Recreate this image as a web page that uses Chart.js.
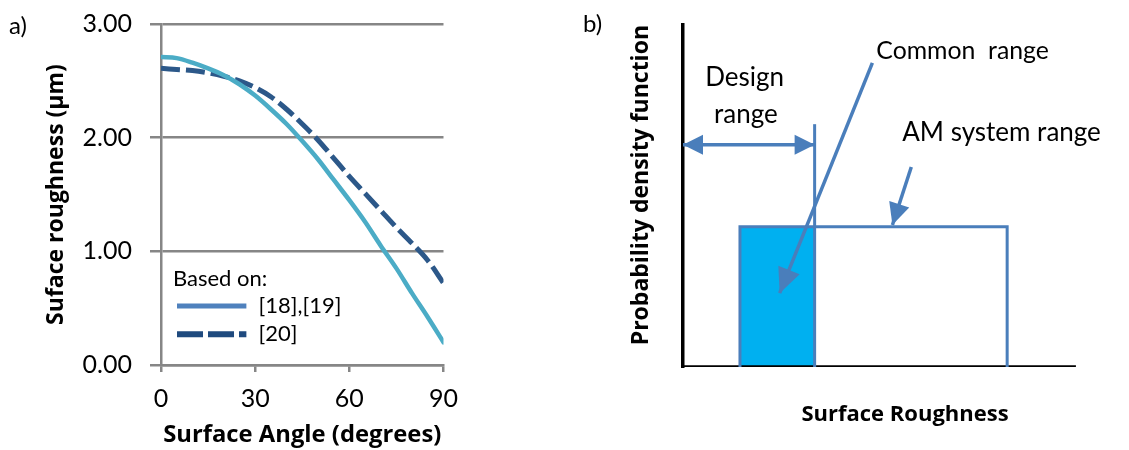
<!DOCTYPE html>
<html lang="en">
  <head>
    <meta charset="UTF-8" />
    <title>Surface roughness vs surface angle</title>
    <style>
      html, body { margin: 0; padding: 0; background: #fff; overflow: hidden; }
      #wrap { position: relative; width: 1129px; height: 450px; overflow: hidden; }
      /* chart a) is shifted up 9px so that its plot top lands on the 3.00 line of the original */
      #chartA { position: absolute; left: 0; top: -9px; width: 470px; height: 459px; }
      #chartB { position: absolute; left: 575px; top: 0; width: 554px; height: 450px; }
    </style>
  </head>
  <body>
    <div id="wrap">
      <canvas id="chartA" width="470" height="459"></canvas> <!-- a) roughness curves -->
      <canvas id="chartB" width="554" height="450"></canvas> <!-- b) range sketch -->
    </div>

    <script src="https://cdn.jsdelivr.net/npm/chart.js@4.4.1/dist/chart.umd.min.js"></script>

    <script>
      // ---- a) data ----
      var angles = [0, 5, 10, 15, 20, 25, 30, 35, 40, 45, 50, 55, 60, 65, 70, 75, 80, 85, 90];
      var roughness1819 = [2.71, 2.70, 2.66, 2.61, 2.55, 2.47, 2.37, 2.25, 2.12, 1.97, 1.81, 1.63, 1.45, 1.26, 1.05, 0.85, 0.63, 0.42, 0.20];
      var roughness20 = [2.61, 2.60, 2.59, 2.57, 2.54, 2.50, 2.44, 2.36, 2.25, 2.12, 1.98, 1.82, 1.66, 1.51, 1.36, 1.21, 1.07, 0.92, 0.72];
      var angleTicks = [0, 30, 60, 90];
      var roughnessTicks = [0, 1, 2, 3];
      var seriesLabels = ['[18],[19]', '[20]'];

      // ---- b) sketch data (arbitrary units) ----
      var roughnessAxisEnd = 100;
      var designRange = [0, 33.5];
      var amSystemRange = [14.5, 82.5];
      var amDensity = 41;
      var designLimitTop = 71;
      var designArrowLevel = 65;
      var commonArrow = [[48.2, 88.9], [24.6, 21.6]];
      var amArrow = [[58.1, 58.5], [53.3, 41.5]];

      var commonRange = [Math.max(designRange[0], amSystemRange[0]), Math.min(designRange[1], amSystemRange[1])];

      function pts(xs, ys) {
        return xs.map(function (x, i) { return { x: x, y: ys[i] }; });
      }
      function pairPts(list) {
        return list.map(function (p) { return { x: p[0], y: p[1] }; });
      }

      Chart.defaults.font.family = 'Lato';
      Chart.defaults.color = '#000';
      var titleFont = '"Open Sans"';

      // text notes, in data units of the chart (or canvas pixels when px:true)
      var notesPlugin = {
        id: 'notes',
        afterDraw: function (chart, args, opts) {
          var ctx = chart.ctx, xs = chart.scales.x, ys = chart.scales.y;
          ctx.save();
          (opts.items || []).forEach(function (it) {
            ctx.font = (it.size || 25) + 'px Lato';
            ctx.fillStyle = '#000';
            ctx.textAlign = it.align || 'left';
            ctx.textBaseline = 'middle';
            var px = it.px ? it.x : xs.getPixelForValue(it.x);
            var py = it.px ? it.y : ys.getPixelForValue(it.y);
            ctx.fillText(it.text, px, py);
          });
          ctx.restore();
        }
      };

      // legend drawn inside the plot, like the original
      var insideLegend = {
        id: 'insideLegend',
        afterDatasetsDraw: function (chart, args, opts) {
          if (!opts.title) return;
          var ctx = chart.ctx, xs = chart.scales.x, ys = chart.scales.y;
          ctx.save();
          ctx.font = '22px Lato';
          ctx.fillStyle = '#000';
          ctx.textBaseline = 'middle';
          ctx.fillText(opts.title, xs.getPixelForValue(opts.x0), ys.getPixelForValue(opts.titleY));
          chart.data.datasets.forEach(function (ds, i) {
            var y = ys.getPixelForValue(opts.rowsY[i]);
            ctx.beginPath();
            ctx.strokeStyle = opts.colors[i];
            ctx.lineWidth = opts.widths[i];
            ctx.setLineDash(opts.dashes[i]);
            ctx.moveTo(xs.getPixelForValue(opts.x1), y);
            ctx.lineTo(xs.getPixelForValue(opts.x2), y);
            ctx.stroke();
            ctx.setLineDash([]);
            ctx.fillText(ds.label, xs.getPixelForValue(opts.textX), y);
          });
          ctx.restore();
        }
      };

      // filled triangle heads on line datasets
      var arrowHeads = {
        id: 'arrowHeads',
        afterDatasetsDraw: function (chart) {
          var ctx = chart.ctx;
          chart.data.datasets.forEach(function (ds, i) {
            if (!ds.heads) return;
            var p = chart.getDatasetMeta(i).data;
            function head(tip, from) {
              var dx = tip.x - from.x, dy = tip.y - from.y;
              var d = Math.sqrt(dx * dx + dy * dy);
              var ux = dx / d, uy = dy / d;
              var L = ds.heads.length, W = ds.heads.width / 2;
              ctx.beginPath();
              ctx.moveTo(tip.x, tip.y);
              ctx.lineTo(tip.x - ux * L - uy * W, tip.y - uy * L + ux * W);
              ctx.lineTo(tip.x - ux * L + uy * W, tip.y - uy * L - ux * W);
              ctx.closePath();
              ctx.fill();
            }
            ctx.save();
            ctx.fillStyle = ds.heads.color || ds.borderColor;
            if (ds.heads.end) head(p[p.length - 1], p[p.length - 2]);
            if (ds.heads.start) head(p[0], p[1]);
            ctx.restore();
          });
        }
      };

      // ---- a) chart ----
      var chartA = new Chart(document.getElementById('chartA'), {
        type: 'line',
        data: {
          datasets: [{
            label: seriesLabels[0],
            data: pts(angles, roughness1819),
            borderColor: '#4bacc6',
            borderWidth: 4.5,
            borderCapStyle: 'round',
            pointRadius: 0,
            cubicInterpolationMode: 'monotone'
          }, {
            label: seriesLabels[1],
            data: pts(angles, roughness20),
            borderColor: '#2c5889',
            borderWidth: 5,
            borderDash: [19, 6],
            pointRadius: 0,
            cubicInterpolationMode: 'monotone'
          }]
        },
        options: {
          responsive: false,
          animation: false,
          layout: { padding: { top: 24, right: 18, left: 0, bottom: 0 } },
          plugins: {
            legend: { display: false },
            tooltip: { enabled: false },
            insideLegend: {
              title: 'Based on:',
              x0: 3.8, titleY: 0.76,
              x1: 5.1, x2: 27.2, textX: 31.1,
              rowsY: [0.52, 0.27],
              colors: ['#4f81bd', '#1f4a7e'],
              widths: [5, 6],
              dashes: [[], [26, 5]]
            },
            notes: { items: [{ text: 'a)', x: 9, y: 35, px: true, size: 24 }] }
          },
          scales: {
            x: {
              type: 'linear',
              min: 0, max: 90,
              afterBuildTicks: function (s) { s.ticks = angleTicks.map(function (v) { return { value: v }; }); },
              afterFit: function (s) { s.height = 85; },
              grid: { drawOnChartArea: false, color: '#868686', lineWidth: 2.5, tickLength: 7 },
              border: { display: true, color: '#868686', width: 2.5 },
              ticks: { font: { size: 25 }, padding: 12, maxRotation: 0 },
              title: {
                display: true, text: 'Surface Angle (degrees)',
                font: { family: titleFont, size: 23.8, weight: 'bold' }, padding: { top: 0, bottom: 1 }
              }
            },
            y: {
              min: 0, max: 3,
              afterBuildTicks: function (s) { s.ticks = roughnessTicks.map(function (v) { return { value: v }; }); },
              afterFit: function (s) { s.width = 161; },
              grid: { color: '#868686', lineWidth: 2.5, tickLength: 11 },
              border: { display: true, color: '#868686', width: 2.5 },
              ticks: { font: { size: 25 }, padding: 18, callback: function (v) { return v.toFixed(2); } },
              title: {
                display: true, text: 'Suface roughness (µm)',
                font: { family: titleFont, size: 23, weight: 'bold' }, padding: { top: 43, bottom: 0 }
              }
            }
          }
        },
        plugins: [insideLegend, notesPlugin]
      });

      // ---- b) chart ----
      var outline = '#4a7ebb';
      var chartB = new Chart(document.getElementById('chartB'), {
        type: 'scatter',
        data: {
          datasets: [{
            label: 'common arrow', order: 0,
            data: pairPts(commonArrow),
            showLine: true, borderColor: outline, borderWidth: 3.5, pointRadius: 0,
            heads: { end: true, length: 25, width: 23 }
          }, {
            label: 'AM arrow', order: 1,
            data: pairPts(amArrow),
            showLine: true, borderColor: outline, borderWidth: 3.5, pointRadius: 0,
            heads: { end: true, length: 22, width: 21 }
          }, {
            label: 'design arrow', order: 2,
            data: [{ x: designRange[0], y: designArrowLevel }, { x: designRange[1], y: designArrowLevel }],
            showLine: true, borderColor: outline, borderWidth: 3.5, pointRadius: 0,
            heads: { start: true, end: true, length: 20, width: 20 }
          }, {
            label: 'design limit', order: 3,
            data: [{ x: designRange[1], y: 0 }, { x: designRange[1], y: designLimitTop }],
            showLine: true, borderColor: outline, borderWidth: 3, pointRadius: 0
          }, {
            label: 'AM system range', order: 4,
            data: [{ x: amSystemRange[0], y: 0 }, { x: amSystemRange[0], y: amDensity },
                   { x: amSystemRange[1], y: amDensity }, { x: amSystemRange[1], y: 0 }],
            showLine: true, borderColor: outline, borderWidth: 3, pointRadius: 0
          }, {
            label: 'x axis', order: 5,
            data: [{ x: 0, y: 0 }, { x: roughnessAxisEnd, y: 0 }],
            showLine: true, borderColor: '#000', borderWidth: 3.5, pointRadius: 0
          }, {
            label: 'common range', order: 6,
            data: [{ x: commonRange[0], y: amDensity }, { x: commonRange[1], y: amDensity }],
            showLine: true, borderWidth: 0, pointRadius: 0,
            fill: 'origin', backgroundColor: '#00b0f0'
          }]
        },
        options: {
          responsive: false,
          animation: false,
          layout: { padding: { top: 25, right: 2, left: 0, bottom: 0 } },
          plugins: {
            legend: { display: false },
            tooltip: { enabled: false },
            notes: {
              items: [
                { text: 'b)', x: 8, y: 24, px: true, size: 24 },
                { text: 'Design', x: 15.7, y: 84.5, align: 'center', size: 26 },
                { text: 'range', x: 16.0, y: 73.7, align: 'center', size: 26 },
                { text: 'Common  range', x: 49.2, y: 92.3, size: 24.8 },
                { text: 'AM system range', x: 55.8, y: 68.4, size: 26 }
              ]
            }
          },
          scales: {
            x: {
              type: 'linear', min: 0, max: 113,
              afterFit: function (s) { s.height = 83; },
              grid: { display: false },
              border: { display: false },
              ticks: { display: false },
              title: {
                display: true, text: 'Surface Roughness',
                font: { family: titleFont, size: 22, weight: 'bold' }, padding: { top: 0, bottom: 22 }
              }
            },
            y: {
              min: 0, max: 100,
              afterFit: function (s) { s.width = 108; },
              grid: { display: false },
              border: { display: true, color: '#000', width: 3.5 },
              ticks: { display: false },
              title: {
                display: true, text: 'Probability density function', align: 'end',
                font: { family: titleFont, size: 23, weight: 'bold' }, padding: { top: 53, bottom: 0 }
              }
            }
          }
        },
        plugins: [arrowHeads, notesPlugin]
      });
    </script>
  </body>
</html>
